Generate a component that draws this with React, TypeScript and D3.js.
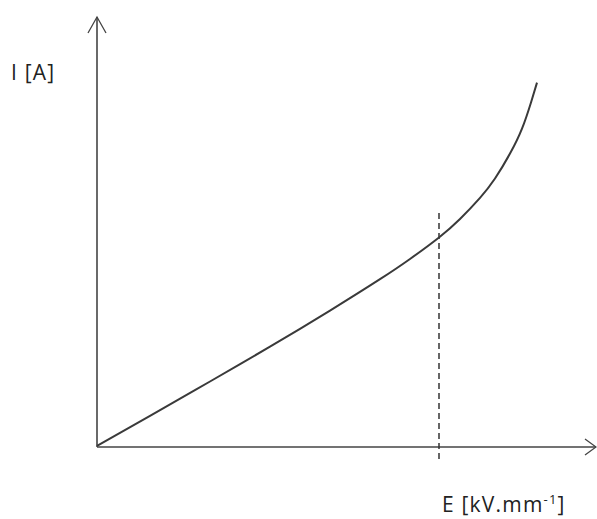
import React from "react";
import * as d3 from "d3";

// Current–field characteristic: field strength E vs. current I (arbitrary units)
const fieldE: number[] = [0, 1.06, 2.26, 3.46, 4.66, 5.66, 6.26, 6.84, 7.26, 7.66, 7.96, 8.26, 8.5, 8.68, 8.8];
const currentI: number[] = [0, 0.7, 1.5, 2.31, 3.15, 3.88, 4.35, 4.85, 5.28, 5.77, 6.22, 6.8, 7.38, 7.99, 8.45];

// Threshold field marked by the dashed guide
const thresholdE = 6.84;
const thresholdSpan: number[] = [-0.35, 5.42];

const yAxisLabel = "I [A]";
const xAxisLabelMain = "E [kV.mm";
const xAxisLabelSup = "-1";
const xAxisLabelEnd = "]";

const W = 597;
const H = 519;
const FONT = "Open Sans, Noto Sans, sans-serif";

export default function App() {
  const x = d3.scaleLinear().domain([0, 10]).range([97, 597]);
  const y = d3.scaleLinear().domain([0, 10]).range([446, 16]);

  const pts: [number, number][] = fieldE.map((e, i) => [e, currentI[i]]);
  const line = d3
    .line<[number, number]>()
    .x((d) => x(d[0]))
    .y((d) => y(d[1]))
    .curve(d3.curveNatural);

  const x0 = x(0);
  const y0 = y(0);
  const yTop = 17;
  const xEnd = 596;

  return (
    <svg
      width={W}
      height={H}
      style={{ position: "absolute", left: 0, top: 0, background: "#fff" }}
    >
      {/* axes */}
      <g stroke="#444" strokeWidth={1.6} fill="none">
        <line x1={x0} y1={y0 + 1} x2={x0} y2={yTop} />
        <path d={`M${x0 - 9},${yTop + 16} L${x0},${yTop} L${x0 + 9},${yTop + 16}`} strokeWidth={1.3} />
        <line x1={x0} y1={y0 + 1} x2={xEnd} y2={y0 + 1} />
        <path d={`M${xEnd - 11},${y0 - 7} L${xEnd},${y0 + 1} L${xEnd - 11},${y0 + 9}`} strokeWidth={1.3} />
      </g>

      {/* dashed threshold */}
      <line
        x1={x(thresholdE)}
        x2={x(thresholdE)}
        y1={y(thresholdSpan[1])}
        y2={y(thresholdSpan[0])}
        stroke="#333"
        strokeWidth={1.5}
        strokeDasharray="6 4"
      />

      {/* characteristic curve */}
      <path d={line(pts) ?? ""} fill="none" stroke="#3a3a3a" strokeWidth={2} />

      {/* labels */}
      <text x={11} y={80} fontFamily={FONT} fontSize={21} fill="#222" letterSpacing={1.2}>
        {yAxisLabel}
      </text>
      <text x={442} y={512} fontFamily={FONT} fontSize={21} fill="#222" letterSpacing={1.2}>
        {xAxisLabelMain}
        <tspan dy={-8} fontSize={13}>{xAxisLabelSup}</tspan>
        <tspan dy={8}>{xAxisLabelEnd}</tspan>
      </text>
    </svg>
  );
}
